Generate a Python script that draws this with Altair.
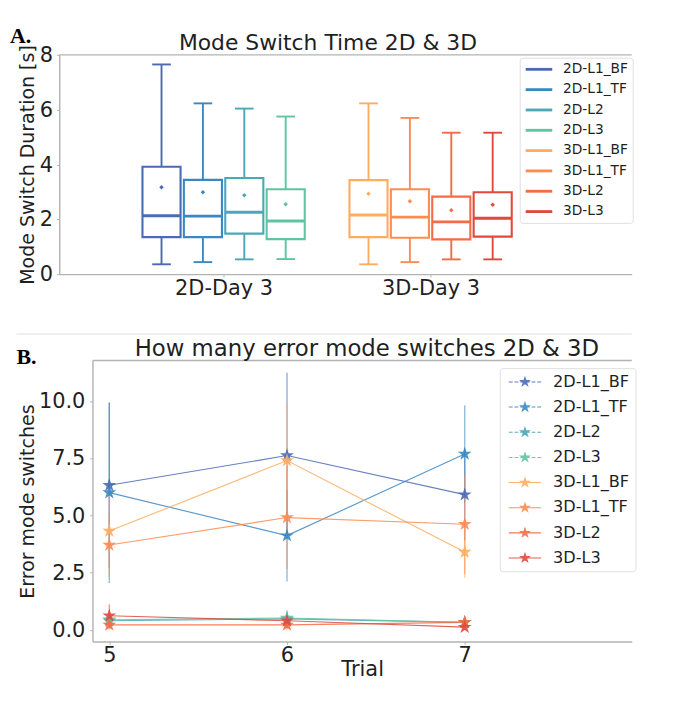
import math
import altair as alt
import pandas as pd

# ---------------- data ----------------
series = ["2D-L1_BF", "2D-L1_TF", "2D-L2", "2D-L3",
          "3D-L1_BF", "3D-L1_TF", "3D-L2", "3D-L3"]
colors = ["#4a6bb4", "#3a88c2", "#4aa8b7", "#5ec4a1",
          "#fdad60", "#fb8c52", "#f36c44", "#e0493d"]
group_names = ["2D-Day 3", "3D-Day 3"]
group_of = [0, 0, 0, 0, 1, 1, 1, 1]
slot_of = [0, 1, 2, 3, 0, 1, 2, 3]

box_min = [0.36, 0.44, 0.54, 0.55, 0.36, 0.44, 0.54, 0.54]
box_q1 = [1.35, 1.35, 1.48, 1.28, 1.35, 1.33, 1.27, 1.37]
box_med = [2.13, 2.12, 2.26, 1.94, 2.16, 2.08, 1.91, 2.04]
box_q3 = [3.92, 3.44, 3.51, 3.10, 3.43, 3.10, 2.83, 2.99]
box_max = [7.65, 6.23, 6.04, 5.75, 6.23, 5.70, 5.16, 5.16]
box_mean = [3.17, 2.99, 2.88, 2.55, 2.93, 2.66, 2.33, 2.53]

trials = [5, 6, 7]
mean_2d_l1_bf = [6.32, 7.62, 5.91]
mean_2d_l1_tf = [6.00, 4.12, 7.69]
mean_2d_l2 = [0.40, 0.48, 0.33]
mean_2d_l3 = [0.44, 0.52, 0.33]
mean_3d_l1_bf = [4.32, 7.40, 3.40]
mean_3d_l1_tf = [3.71, 4.91, 4.62]
mean_3d_l2 = [0.22, 0.22, 0.33]
mean_3d_l3 = [0.62, 0.40, 0.12]

sd_2d_l1_bf = [3.60, 3.62, 2.00]
sd_2d_l1_tf = [3.95, 2.00, 2.13]
sd_2d_l2 = [0.30, 0.30, 0.05]
sd_2d_l3 = [0.30, 0.35, 0.05]
sd_3d_l1_bf = [1.70, 2.50, 1.12]
sd_3d_l1_tf = [1.40, 2.25, 2.17]
sd_3d_l2 = [0.20, 0.20, 0.10]
sd_3d_l3 = [0.50, 0.30, 0.10]

means = [mean_2d_l1_bf, mean_2d_l1_tf, mean_2d_l2, mean_2d_l3,
         mean_3d_l1_bf, mean_3d_l1_tf, mean_3d_l2, mean_3d_l3]
sds = [sd_2d_l1_bf, sd_2d_l1_tf, sd_2d_l2, sd_2d_l3,
       sd_3d_l1_bf, sd_3d_l1_tf, sd_3d_l2, sd_3d_l3]

# ---------------- tables ----------------
DODGE = 0.2
BOX_HALF = 0.092
CAP_HALF = 0.045
pos = [g + (k - 1.5) * DODGE for g, k in zip(group_of, slot_of)]
box_df = pd.DataFrame({
    "series": series, "pos": pos,
    "lo": box_min, "q1": box_q1, "med": box_med,
    "q3": box_q3, "hi": box_max, "mean": box_mean,
})
box_df["bl"] = box_df["pos"] - BOX_HALF
box_df["br"] = box_df["pos"] + BOX_HALF
box_df["cl"] = box_df["pos"] - CAP_HALF
box_df["cr"] = box_df["pos"] + CAP_HALF

rows = []
for s, m, e in zip(series, means, sds):
    for t, mv, ev in zip(trials, m, e):
        rows.append({"series": s, "trial": t, "val": mv,
                     "lo": mv - ev, "hi": mv + ev})
err_df = pd.DataFrame(rows)

# ---------------- shapes ----------------
def star_path(R, ratio=0.381966):
    pts = []
    for i in range(10):
        a = math.radians(-90 + 36 * i)
        r = R if i % 2 == 0 else R * ratio
        pts.append((r * math.cos(a), r * math.sin(a)))
    return "M" + "L".join(f"{x:.3f},{y:.3f}" for x, y in pts) + "Z"

def rect(x0, x1, t):
    return f"M{x0:.3f},{-t:.3f}H{x1:.3f}V{t:.3f}H{x0:.3f}Z"

LEG_SCALE = 5.0  # sqrt(100)/2
half = 17 / LEG_SCALE
thick = 0.55 / LEG_SCALE
dashed = ""
x = -17.0
while x < 17.0:
    x1 = min(x + 4.0, 17.0)
    dashed += rect(x / LEG_SCALE, x1 / LEG_SCALE, thick)
    x += 6.0
solid = rect(-half, half, thick)
leg_star = star_path(1.32)
legend_paths = [leg_star + (dashed if s.startswith("2D") else solid) for s in series]
plot_star = star_path(1.0)

FONT = "DejaVu Sans"
TXT = "#1f1f1f"
SPINE = "#b3b3b3"
W = 568          # both panels share the plot origin; the top one reaches further left
SHIFT = 35       # extra room on the left of the top panel
H1, H2 = 231, 296

cs1 = alt.Scale(domain=series, range=colors)
cs2 = alt.Scale(domain=series, range=colors)

# ---------------- top chart ----------------
xs1 = alt.Scale(domain=[-0.794, 1.972], nice=False, zero=False, range=[-SHIFT, W])
ys1 = alt.Scale(domain=[0, 8], nice=False, zero=False)
label_expr = f"datum.value == 0 ? '{group_names[0]}' : '{group_names[1]}'"
xax1 = alt.Axis(values=[0, 1], labelExpr=label_expr, title=None, grid=False,
                domainColor=SPINE, domainWidth=1.5, tickColor=SPINE, tickSize=3,
                labelFont=FONT, labelFontSize=22, labelColor=TXT, labelPadding=1)
yax1 = alt.Axis(values=[0, 2, 4, 6, 8], title="Mode Switch Duration [s]", grid=False,
                offset=SHIFT,
                domainColor=SPINE, domainWidth=1.5, tickColor=SPINE, tickSize=3,
                labelFont=FONT, labelFontSize=22, labelColor=TXT, labelPadding=4,
                titleFont=FONT, titleFontSize=20, titleFontWeight="normal",
                titleColor=TXT, titlePadding=2)
top_legend = alt.Legend(title=None, orient="none", legendX=450, legendY=3,
                        symbolType="M-2.8,0H2.8", symbolSize=100, symbolStrokeWidth=3,
                        symbolOffset=8, labelOffset=18, labelFont=FONT,
                        labelFontSize=14.5, labelColor=TXT, fillColor="white",
                        strokeColor="#dddddd", cornerRadius=3, padding=5,
                        rowPadding=6.4)

def X1(f):
    return alt.X(f, scale=xs1, axis=xax1)

def Y1(f):
    return alt.Y(f, scale=ys1, axis=yax1)

C1 = alt.Color("series:N", scale=cs1, legend=top_legend)

base1 = alt.Chart(box_df)
whisk_lo = base1.mark_rule(strokeWidth=2).encode(
    x=X1("pos:Q"), y=Y1("lo:Q"), y2="q1:Q", color=C1)
whisk_hi = base1.mark_rule(strokeWidth=2).encode(
    x=X1("pos:Q"), y=Y1("q3:Q"), y2="hi:Q", color=C1)
cap_lo = base1.mark_rule(strokeWidth=2).encode(
    x=X1("cl:Q"), x2="cr:Q", y=Y1("lo:Q"), color=C1)
cap_hi = base1.mark_rule(strokeWidth=2).encode(
    x=X1("cl:Q"), x2="cr:Q", y=Y1("hi:Q"), color=C1)
boxes = base1.mark_rect(filled=False, strokeWidth=2.2).encode(
    x=X1("bl:Q"), x2="br:Q", y=Y1("q1:Q"), y2="q3:Q", color=C1)
medians = base1.mark_rule(strokeWidth=3).encode(
    x=X1("bl:Q"), x2="br:Q", y=Y1("med:Q"), color=C1)
mean_pts = base1.mark_point(shape="diamond", filled=True, size=22, opacity=1).encode(
    x=X1("pos:Q"), y=Y1("mean:Q"), color=C1)

one = pd.DataFrame({"k": [0]})
deco1 = alt.Chart(one)
top_spine1 = deco1.mark_rule(color=SPINE, strokeWidth=1.5).encode(
    x=alt.value(-SHIFT), x2=alt.value(W), y=alt.value(0))
left_pad1 = deco1.mark_rule(color="white", strokeWidth=1, opacity=0).encode(
    x=alt.value(-89), x2=alt.value(-85), y=alt.value(-10))
letter_a = deco1.mark_text(text="A.", font="Liberation Serif", fontWeight="bold",
                           fontSize=23, align="left", baseline="alphabetic",
                           color="#000000").encode(x=alt.value(-87), y=alt.value(-13))
title1 = deco1.mark_text(text="Mode Switch Time 2D & 3D", font=FONT, fontSize=23,
                         align="center", baseline="alphabetic", color=TXT).encode(
    x=alt.value(248), y=alt.value(-5.3))

top = alt.layer(whisk_lo, whisk_hi, cap_lo, cap_hi, boxes, medians, mean_pts,
                top_spine1, left_pad1, letter_a, title1).properties(width=W, height=H1)

# ---------------- bottom chart ----------------
xs2 = alt.Scale(domain=[4.9055, 7.94], nice=False, zero=False)
ys2 = alt.Scale(domain=[-0.51, 11.77], nice=False, zero=False)
xax2 = alt.Axis(values=trials, format="d", title="Trial", grid=False,
                domainColor=SPINE, domainWidth=1.5, tickColor=SPINE, tickSize=3,
                labelFont=FONT, labelFontSize=22, labelColor=TXT, labelPadding=1,
                titleFont=FONT, titleFontSize=22, titleFontWeight="normal",
                titleColor=TXT, titlePadding=-6)
yax2 = alt.Axis(values=[0, 2.5, 5, 7.5, 10], format=".1f", title="Error mode switches",
                grid=False, domainColor=SPINE, domainWidth=1.5, tickColor=SPINE,
                tickSize=3, labelFont=FONT, labelFontSize=22, labelColor=TXT,
                labelPadding=5, titleFont=FONT, titleFontSize=20,
                titleFontWeight="normal", titleColor=TXT, titlePadding=1)
bottom_legend = alt.Legend(title=None, orient="none", legendX=429, legendY=8,
                           symbolSize=100, symbolOffset=12, labelOffset=21,
                           symbolStrokeWidth=0,
                           labelFont=FONT, labelFontSize=17, labelColor=TXT,
                           fillColor="white", strokeColor="#dddddd", cornerRadius=3,
                           padding=6, rowPadding=8.5)

def X2(f):
    return alt.X(f, scale=xs2, axis=xax2)

def Y2(f):
    return alt.Y(f, scale=ys2, axis=yax2)

C2 = alt.Color("series:N", scale=cs2, legend=bottom_legend)

base2 = alt.Chart(err_df)
ebars = base2.mark_rule(strokeWidth=1.5, opacity=0.55).encode(
    x=X2("trial:Q"), y=Y2("lo:Q"), y2="hi:Q", color=C2)
lines = base2.mark_line(strokeWidth=1.2, opacity=0.85).encode(
    x=X2("trial:Q"), y=Y2("val:Q"), color=C2, detail="series:N")
stars = base2.mark_point(shape=plot_star, filled=True, size=237, opacity=0.9,
                         strokeWidth=0).encode(
    x=X2("trial:Q"), y=Y2("val:Q"), color=C2)
legend_layer = base2.transform_filter("false").mark_point(
    filled=True, size=100, opacity=0.9, strokeWidth=0).encode(
    x=X2("trial:Q"), y=Y2("val:Q"), color=C2,
    shape=alt.Shape("series:N", scale=alt.Scale(domain=series, range=legend_paths),
                    legend=bottom_legend),
)

deco2 = alt.Chart(one)
top_spine2 = deco2.mark_rule(color=SPINE, strokeWidth=1.5).encode(
    x=alt.value(0), x2=alt.value(W), y=alt.value(0))
separator = deco2.mark_rule(color="#dcdcdc", strokeWidth=1).encode(
    x=alt.value(-80), x2=alt.value(W), y=alt.value(-28))
left_pad2 = deco2.mark_rule(color="white", strokeWidth=1, opacity=0).encode(
    x=alt.value(-89), x2=alt.value(-80), y=alt.value(-28))
letter_b = deco2.mark_text(text="B.", font="Liberation Serif", fontWeight="bold",
                           fontSize=23, align="left", baseline="alphabetic",
                           color="#000000").encode(x=alt.value(-80), y=alt.value(4))
title2 = deco2.mark_text(text="How many error mode switches 2D & 3D", font=FONT,
                         fontSize=24, align="center", baseline="alphabetic",
                         color=TXT).encode(x=alt.value(289), y=alt.value(-5))

bottom = alt.layer(legend_layer, ebars, lines, stars, top_spine2, separator,
                   left_pad2, letter_b, title2).properties(width=W, height=H2)

chart = alt.vconcat(top, bottom, spacing=37).resolve_scale(
    color="independent", shape="independent"
).resolve_legend(
    color="independent", shape="independent"
).configure(padding=0).configure_view(stroke=None)

chart.save("out.html", embed_options={"renderer": "svg", "actions": False})
